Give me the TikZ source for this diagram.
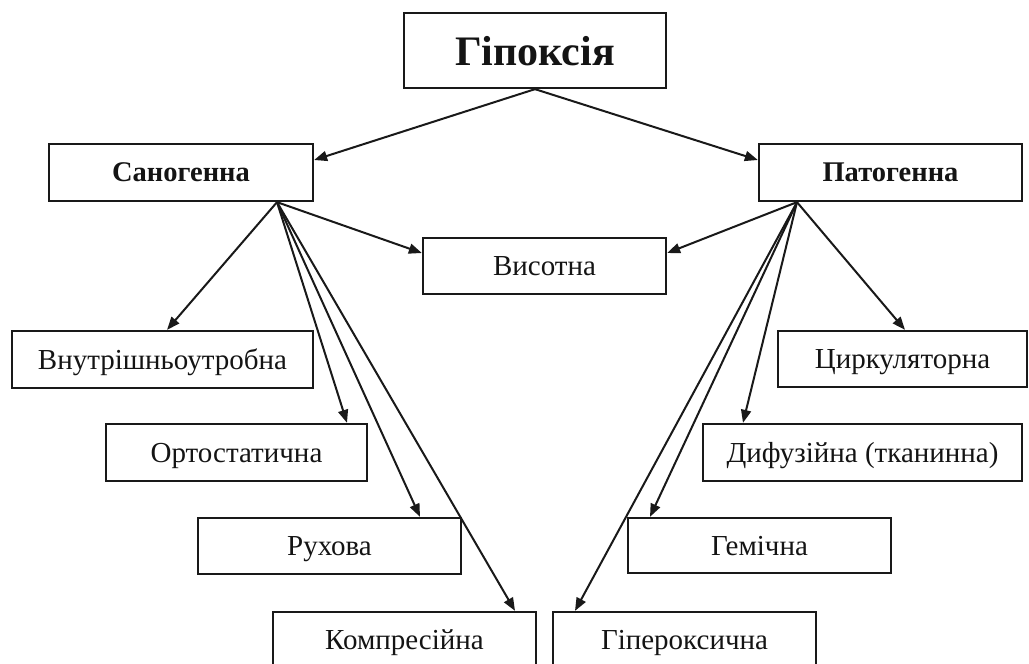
\documentclass[tikz,border=0pt]{standalone}
\usepackage{fontspec}
\setmainfont{Liberation Serif}
\usetikzlibrary{arrows.meta}
\begin{document}
\begin{tikzpicture}[x=1pt,y=-1pt,
  box/.style={draw=black!90, line width=2.3pt, inner sep=0pt, align=center, text=black!92},
  reg/.style={box, font=\fontsize{29}{32}\selectfont, text height=22.6pt, text depth=3.5pt},
  bld/.style={box, font=\fontsize{28.5}{32}\selectfont\bfseries, text height=22.2pt, text depth=3.4pt},
  arr/.style={draw=black!90, line width=2pt, -{Triangle[length=13pt,width=10pt]}}
]
\useasboundingbox (0,0) rectangle (1029,664);
\node[box, font=\fontsize{42}{46}\selectfont\bfseries, text height=34pt, text depth=4pt, minimum width=262pt, minimum height=75pt] (hyp) at (535,50.5) {Гіпоксія};
\node[bld, minimum width=264pt, minimum height=57pt] (san) at (181,172.5) {Саногенна};
\node[bld, minimum width=263pt, minimum height=57pt] (pat) at (890.5,172.5) {Патогенна};
\node[reg, minimum width=243pt, minimum height=56pt] (vys) at (544.5,266) {Висотна};
\node[reg, minimum width=301pt, minimum height=57pt] (vnu) at (162.5,359.5) {Внутрішньоутробна};
\node[reg, minimum width=249pt, minimum height=56pt] (cyr) at (902.5,359) {Циркуляторна};
\node[reg, minimum width=261pt, minimum height=57pt] (orto) at (236.5,452.5) {Ортостатична};
\node[reg, minimum width=319pt, minimum height=57pt] (dyf) at (862.5,452.5) {Дифузійна (тканинна)};
\node[reg, minimum width=263pt, minimum height=56pt] (ruh) at (329.5,546) {Рухова};
\node[reg, minimum width=263pt, minimum height=55pt] (gem) at (759.5,545.5) {Гемічна};
\node[reg, minimum width=263pt, minimum height=56pt] (komp) at (404.5,640) {Компресійна};
\node[reg, minimum width=263pt, minimum height=56pt] (gip) at (684.5,640) {Гіпероксична};

\draw[arr] (hyp.south) -- ([yshift=12.5pt]san.east);
\draw[arr] (hyp.south) -- ([yshift=12.5pt]pat.west);

\draw[arr] ([xshift=96pt]san.south) -- ([yshift=13pt]vys.west);
\draw[arr] ([xshift=96pt]san.south) -- ([xshift=4.5pt]vnu.north);
\draw[arr] ([xshift=96pt]san.south) -- ([xshift=110.5pt]orto.north);
\draw[arr] ([xshift=96pt]san.south) -- ([xshift=90.5pt]ruh.north);
\draw[arr] ([xshift=96pt]san.south) -- ([xshift=110.5pt]komp.north);

\draw[arr] ([xshift=-93.5pt]pat.south) -- ([yshift=13pt]vys.east);
\draw[arr] ([xshift=-93.5pt]pat.south) -- ([xshift=2.5pt]cyr.north);
\draw[arr] ([xshift=-93.5pt]pat.south) -- ([xshift=-119.5pt]dyf.north);
\draw[arr] ([xshift=-93.5pt]pat.south) -- ([xshift=-109.5pt]gem.north);
\draw[arr] ([xshift=-93.5pt]pat.south) -- ([xshift=-109.5pt]gip.north);
\end{tikzpicture}
\end{document}
